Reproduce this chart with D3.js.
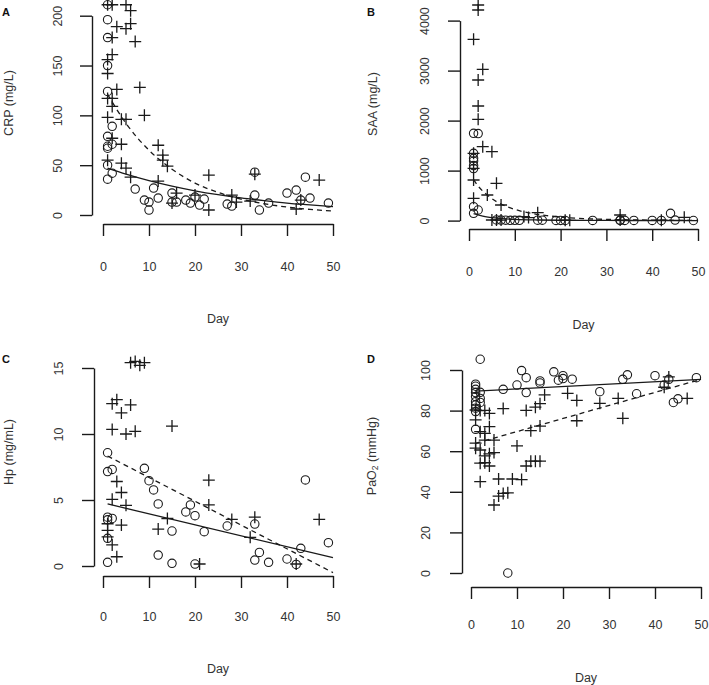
<!DOCTYPE html>
<html><head><meta charset="utf-8">
<script src="https://cdnjs.cloudflare.com/ajax/libs/d3/7.8.5/d3.min.js"></script>
<style>
html,body{margin:0;padding:0;background:#fff;}
svg{display:block;font-family:"Liberation Sans",Arial,Helvetica,sans-serif;}
</style></head>
<body><svg id="chart" width="709" height="685"></svg>
<script>
// ---------------- DATA ----------------
const xTicks = [0, 10, 20, 30, 40, 50];

// Panel A: CRP (mg/L)
const crpTicks = [0, 50, 100, 150, 200];
const crpCircle = [[1,211],[1,196],[1,178],[1,150],[1,124],[1,79],[1,69],[1,67],[2,89],[2,71],[1,50],[1,36],[2,42],[7,26],[9,15],[10,13],[10,5],[11,27],[12,17],[15,22],[15,13],[16,13],[18,15],[19,12],[20,18],[21,10],[22,16],[27,11],[28,9],[33,43],[33,20],[34,5],[36,12],[40,22],[42,25],[43,15],[44,38],[45,17],[49,12]];
const crpPlus = [[1,211],[2,211],[5,211],[6,205],[3,189],[5,187],[6,192],[7,174],[2,178],[2,161],[1,156],[1,142],[8,128],[3,126],[2,117],[1,117],[2,109],[9,100],[1,98],[4,96],[5,96],[2,77],[4,71],[12,70],[13,60],[13,55],[14,49],[1,55],[4,52],[5,47],[6,38],[12,34],[23,40],[23,5],[28,20],[32,14],[33,41],[42,6],[43,15],[47,35],[15,12],[16,22],[20,20],[29,13]];
const crpFitSolid = [[1,47],[5,41],[10,34.5],[15,29],[20,24.3],[25,20.4],[30,17.1],[35,14.4],[40,12],[45,10.1],[50,8.5]];
const crpFitDashed = [[1,121],[5,92],[10,65],[15,46],[20,32],[25,22.7],[30,16],[35,11.3],[40,8],[45,5.6],[50,4]];

// Panel B: SAA (mg/L)
const saaTicks = [0, 1000, 2000, 3000, 4000];
const saaCircle = [[1,1746],[2,1740],[1,1346],[1,1246],[1,1192],[1,1100],[1,1040],[1,278],[2,212],[1,146],[6,14],[7,10],[8,8],[9,6],[10,6],[11,6],[15,8],[16,8],[19,4],[20,4],[21,4],[27,4],[33,10],[33,4],[34,4],[36,4],[40,4],[42,4],[44,146],[45,10],[49,2]];
const saaPlus = [[2,4312],[2,4212],[1,3626],[3,3026],[2,2812],[2,2292],[2,2026],[3,1478],[5,1378],[1,1346],[1,1046],[1,812],[6,746],[1,446],[4,512],[7,312],[15,158],[5,12],[6,12],[7,10],[13,60],[21,8],[22,5],[33,112],[33,10],[42,8],[47,66],[12,80]];
const saaFitSolid = [[1,140],[3,90],[6,50],[10,25],[15,12],[20,7],[30,3],[40,2],[50,1]];
const saaFitDashed = [[1,820],[2,690],[4,510],[6,380],[8,290],[10,225],[12,175],[14,140],[17,100],[20,70],[25,40],[30,25],[40,10],[50,4]];

// Panel C: Hp (mg/mL)
const hpTicks = [0, 5, 10, 15];
const hpCircle = [[1,8.58],[1,7.15],[2,7.32],[1,3.7],[2,3.6],[1,3.5],[1,2.1],[1,0.28],[9,7.4],[10,6.46],[11,5.76],[12,4.7],[12,0.83],[15,2.65],[15,0.2],[18,4.1],[19,4.63],[20,3.81],[20,0.15],[22,2.6],[27,3.03],[33,3.18],[33,0.45],[34,1.03],[36,0.28],[40,0.53],[42,0.12],[43,1.34],[44,6.52],[49,1.77]];
const hpPlus = [[6,15.4],[7,15.5],[8,15.2],[9,15.4],[2,12.3],[3,12.6],[6,12.2],[4,11.6],[2,10.35],[5,10.0],[7,10.2],[15,10.6],[3,6.4],[4,5.57],[2,5.05],[5,4.6],[23,6.5],[23,4.63],[14,3.6],[4,3.1],[12,2.8],[1,3.2],[1,2.7],[1,2.2],[2,1.6],[3,0.7],[21,0.15],[28,3.53],[32,2.17],[33,3.7],[42,0.15],[47,3.53]];
const hpFitSolid = [[1,4.7],[50,0.63]];
const hpFitDashed = [[1,8.33],[50,-0.5]];

// Panel D: PaO2 (mmHg)
const paoTicks = [0, 20, 40, 60, 80, 100];
const paoCircle = [[1,93],[1,92],[1,90.5],[1,88.9],[1,86.9],[1,84.4],[1,82.8],[1,81.2],[1,79.5],[1,70.8],[2,105.3],[2,89],[2,86],[2,84],[7,90.5],[10,92.6],[11,99.7],[12,96.2],[12,88.9],[15,94.6],[15,93.6],[18,99.1],[19,95],[20,97.2],[20,95.8],[22,95.5],[28,89.3],[33,95.4],[34,97.6],[36,88.3],[40,97.2],[42,92.6],[43,95.4],[44,84],[45,85.8],[49,96.2],[8,0]];
const paoPlus = [[16,87.7],[21,88.5],[23,85],[28,83.6],[32,86],[33,76.2],[42,91.5],[43,96.6],[47,86],[23,75],[13,70.1],[15,72.4],[15,83.4],[14,81.7],[12,80.1],[7,81],[10,62.6],[12,52.7],[13,55.1],[14,55.1],[15,55.1],[6,46.3],[9,46.3],[11,46],[6,37.9],[7,39.2],[8,39.5],[5,33.5],[2,45],[4,52.7],[3,54.3],[2,54.1],[4,58.7],[1,61.5],[1,64],[2,60.6],[3,57.7],[5,59.3],[5,65.5],[3,65.5],[3,68.8],[4,72.1],[2,69.6],[1,75.4],[1,80.3],[2,80],[3,80.1],[4,78.6]];
const paoFitSolid = [[1,89.6],[50,95.4]];
const paoFitDashed = [[1,63.9],[50,95.4]];

// ---------------- DRAW ----------------
const svg = d3.select("#chart");
const ink = "#1a1a1a";
const txt = "#333";

const panels = [
  {letter:"A", lx:2, ly:16, title:"CRP (mg/L)", tx:9, ty:103,
   xr:[103,333], yr:[215,15.7], ydom:[0,200], ax:92, ay:224, yTicks:crpTicks,
   ylabX:58, xlabY:267, dayY:319,
   circ:crpCircle, plus:crpPlus, fs:crpFitSolid, fd:crpFitDashed, curve:true},
  {letter:"B", lx:367, ly:16, title:"SAA (mg/L)", tx:373, ty:104,
   xr:[469,698], yr:[220.6,20.6], ydom:[0,4000], ax:460, ay:229, yTicks:saaTicks,
   ylabX:425, xlabY:272, dayY:325,
   circ:saaCircle, plus:saaPlus, fs:saaFitSolid, fd:saaFitDashed, curve:true},
  {letter:"C", lx:2, ly:363, title:"Hp (mg/mL)", tx:9, ty:452,
   xr:[103,333], yr:[566,368], ydom:[0,15], ax:94, ay:576, yTicks:hpTicks,
   ylabX:59, xlabY:617, dayY:669,
   circ:hpCircle, plus:hpPlus, fs:hpFitSolid, fd:hpFitDashed, curve:false},
  {letter:"D", lx:367, ly:363, title:"PaO2", tx:372, ty:456,
   xr:[471,701], yr:[573,370], ydom:[0,100], ax:462, ay:587, yTicks:paoTicks,
   ylabX:426, xlabY:625, dayY:678,
   circ:paoCircle, plus:paoPlus, fs:paoFitSolid, fd:paoFitDashed, curve:false}
];

panels.forEach(p => {
  const x = d3.scaleLinear().domain([0,50]).range(p.xr);
  const y = d3.scaleLinear().domain(p.ydom).range(p.yr);
  const g = svg.append("g");

  // Panel letter
  g.append("text").attr("x", p.lx).attr("y", p.ly)
    .attr("font-size", 11).attr("font-weight", "bold").attr("fill", "#111")
    .text(p.letter);

  // Y axis
  const ya = g.append("g").attr("transform", `translate(${p.ax},0)`)
    .call(d3.axisLeft(y).tickValues(p.yTicks).tickSize(12).tickSizeOuter(0).tickFormat(d3.format("d")));
  ya.selectAll("path, line").attr("stroke", ink).attr("stroke-width", 1.4);
  ya.selectAll("text")
    .attr("x", null).attr("dy", null)
    .attr("transform", `translate(${p.ylabX - p.ax},0) rotate(-90)`)
    .attr("text-anchor", "middle").attr("dominant-baseline", "central")
    .attr("font-size", 12.5).attr("fill", txt)
    .attr("font-family", '"Liberation Sans",Arial,sans-serif');

  // X axis
  const xa = g.append("g").attr("transform", `translate(0,${p.ay})`)
    .call(d3.axisBottom(x).tickValues(xTicks).tickSize(12).tickSizeOuter(0));
  xa.selectAll("path, line").attr("stroke", ink).attr("stroke-width", 1.4);
  xa.selectAll("text")
    .attr("y", p.xlabY - p.ay).attr("dy", null)
    .attr("dominant-baseline", "central")
    .attr("font-size", 12.5).attr("fill", txt)
    .attr("font-family", '"Liberation Sans",Arial,sans-serif');

  // Axis titles
  g.append("text").attr("x", (p.xr[0]+p.xr[1])/2).attr("y", p.dayY)
    .attr("text-anchor", "middle").attr("dominant-baseline", "central")
    .attr("font-size", 12.5).attr("fill", txt).text("Day");

  const yt = g.append("text")
    .attr("transform", `translate(${p.tx},${p.ty}) rotate(-90)`)
    .attr("text-anchor", "middle").attr("dominant-baseline", "central")
    .attr("font-size", 12.5).attr("fill", txt);
  if (p.title === "PaO2") {
    yt.append("tspan").text("PaO");
    yt.append("tspan").attr("font-size", 8.5).attr("dy", 3).text("2");
    yt.append("tspan").attr("dy", -3).text(" (mmHg)");
  } else {
    yt.text(p.title);
  }

  // Fit lines
  const line = d3.line().x(d => x(d[0])).y(d => y(d[1]))
    .curve(p.curve ? d3.curveMonotoneX : d3.curveLinear);
  g.append("path").datum(p.fs).attr("d", line)
    .attr("fill", "none").attr("stroke", ink).attr("stroke-width", 1.3);
  g.append("path").datum(p.fd).attr("d", line)
    .attr("fill", "none").attr("stroke", ink).attr("stroke-width", 1.3)
    .attr("stroke-dasharray", "5,4");

  // Circles
  g.append("g").selectAll("circle").data(p.circ).join("circle")
    .attr("cx", d => x(d[0])).attr("cy", d => y(d[1])).attr("r", 4.2)
    .attr("fill", "none").attr("stroke", ink).attr("stroke-width", 1.1);

  // Plus signs
  g.append("g").selectAll("path").data(p.plus).join("path")
    .attr("d", d => `M${x(d[0])-6},${y(d[1])}H${x(d[0])+6}M${x(d[0])},${y(d[1])-6}V${y(d[1])+6}`)
    .attr("fill", "none").attr("stroke", ink).attr("stroke-width", 1.3);
});
</script>
</body></html>
